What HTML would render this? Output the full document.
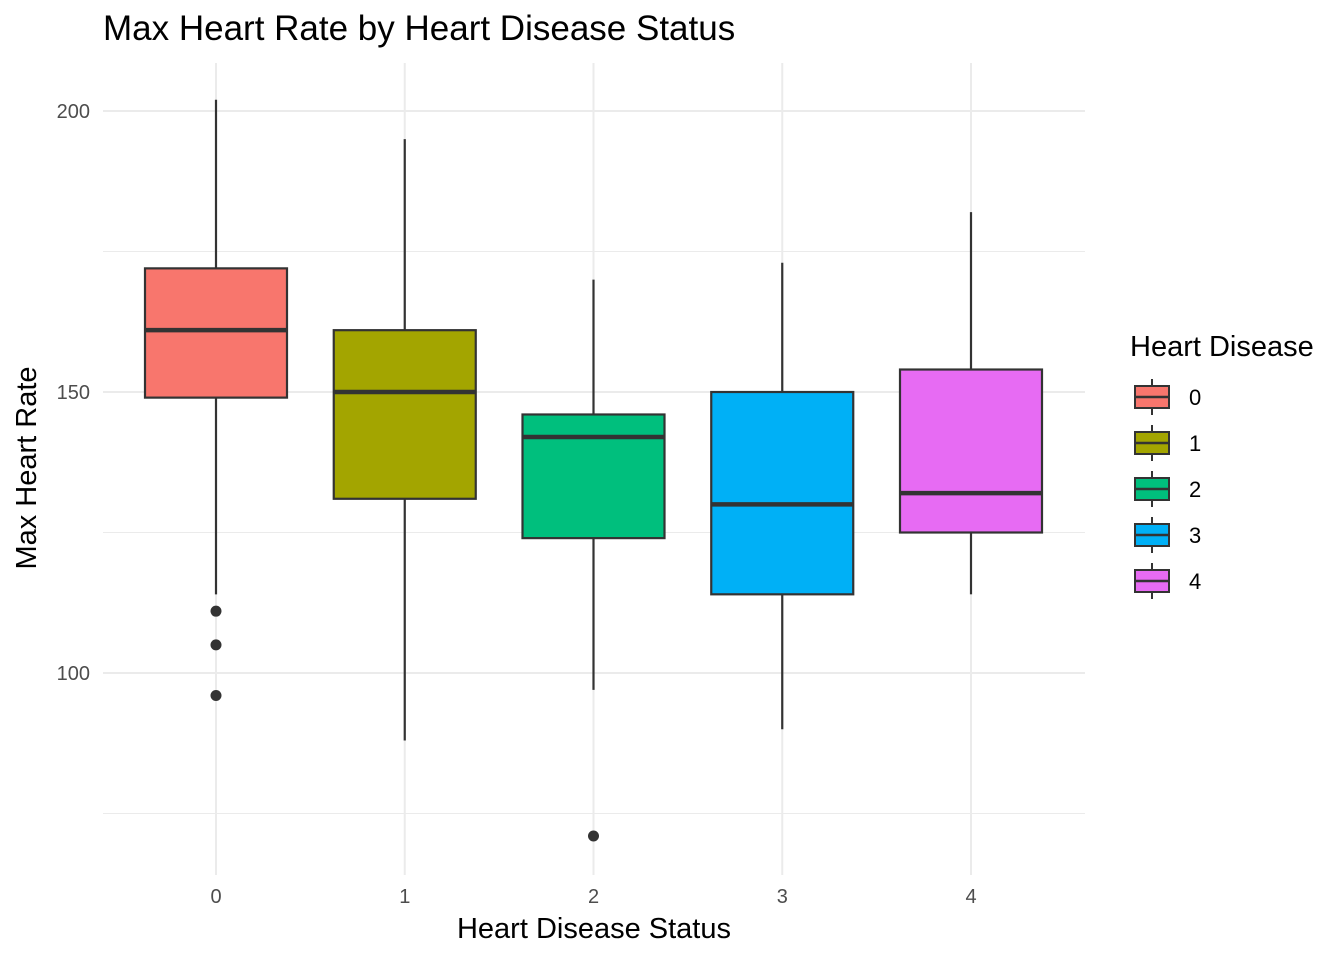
<!DOCTYPE html>
<html><head><meta charset="utf-8"><style>
body{margin:0;background:#fff;font-family:"Liberation Sans",sans-serif}
</style></head><body>
<svg id="chart" width="1344" height="960" xmlns="http://www.w3.org/2000/svg" font-family="Liberation Sans, sans-serif">
<text x="103" y="40" font-size="35" fill="#000">Max Heart Rate by Heart Disease Status</text>
<g id="grid"></g><g id="boxes"></g><g id="axes"></g>
<text x="594" y="938" font-size="29" text-anchor="middle">Heart Disease Status</text>
<text transform="translate(36,468) rotate(-90)" font-size="29" text-anchor="middle">Max Heart Rate</text>
<text x="1130" y="356" font-size="29">Heart Disease</text>
<g id="legend"></g>
</svg>
<script>
const categories=["0","1","2","3","4"];
const lowerWhisker=[114,88,97,90,114];
const q1=[149,131,124,114,125];
const median=[161,150,142,130,132];
const q3=[172,161,146,150,154];
const upperWhisker=[202,195,170,173,182];
const outliers=[[111,105,96],[],[71],[],[]];
const colors=["#F8766D","#A3A500","#00BF7D","#00B0F6","#E76BF3"];
const yMajor=[100,150,200];
const yMinor=[75,125,175];
const NS="http://www.w3.org/2000/svg";
const y=v=>392-(v-150)*5.62;
const x=i=>216+i*188.75;
function mk(p,t,a){const e=document.createElementNS(NS,t);for(const k in a)e.setAttribute(k,a[k]);p.appendChild(e);return e;}
const grid=document.getElementById('grid'),boxes=document.getElementById('boxes'),axes=document.getElementById('axes'),leg=document.getElementById('legend');
yMinor.forEach(v=>{const l=mk(grid,'line',{x1:103,x2:1085,y1:y(v),y2:y(v),stroke:'#ebebeb','stroke-width':1});

});
yMajor.forEach(v=>{const l=mk(grid,'line',{x1:103,x2:1085,y1:y(v),y2:y(v),stroke:'#ebebeb','stroke-width':2});


const t=mk(axes,'text',{x:90,y:y(v)+7,'font-size':20,fill:'#4d4d4d','text-anchor':'end'});t.textContent=v;

});
categories.forEach((c,i)=>{const l=mk(grid,'line',{x1:x(i),x2:x(i),y1:63,y2:875,stroke:'#ebebeb','stroke-width':2});


const t=mk(axes,'text',{x:x(i),y:903,'font-size':20,fill:'#4d4d4d','text-anchor':'middle'});t.textContent=c;


const g=mk(boxes,'g',{});


mk(g,'line',{x1:x(i),x2:x(i),y1:y(upperWhisker[i]),y2:y(q3[i]),stroke:'#333','stroke-width':2.2});
mk(g,'line',{x1:x(i),x2:x(i),y1:y(q1[i]),y2:y(lowerWhisker[i]),stroke:'#333','stroke-width':2.2});
mk(g,'rect',{x:x(i)-71,y:y(q3[i]),width:142,height:y(q1[i])-y(q3[i]),fill:colors[i],stroke:'#333','stroke-width':2.2});
mk(g,'line',{x1:x(i)-71,x2:x(i)+71,y1:y(median[i]),y2:y(median[i]),stroke:'#333','stroke-width':4.5});
outliers[i].forEach(o=>{const d=mk(g,'circle',{cx:x(i),cy:y(o),r:5.5,fill:'#333'});

});
const ly=397+i*46;
const lg=mk(leg,'g',{});


mk(lg,'line',{x1:1152,x2:1152,y1:ly-18,y2:ly+18,stroke:'#333','stroke-width':2});
mk(lg,'rect',{x:1135,y:ly-11,width:34,height:22,fill:colors[i],stroke:'#333','stroke-width':2});
mk(lg,'line',{x1:1135,x2:1169,y1:ly,y2:ly,stroke:'#333','stroke-width':2.5});
const lt=mk(lg,'text',{x:1189,y:ly+8,'font-size':22});lt.textContent=c;});
</script>
</body></html>
